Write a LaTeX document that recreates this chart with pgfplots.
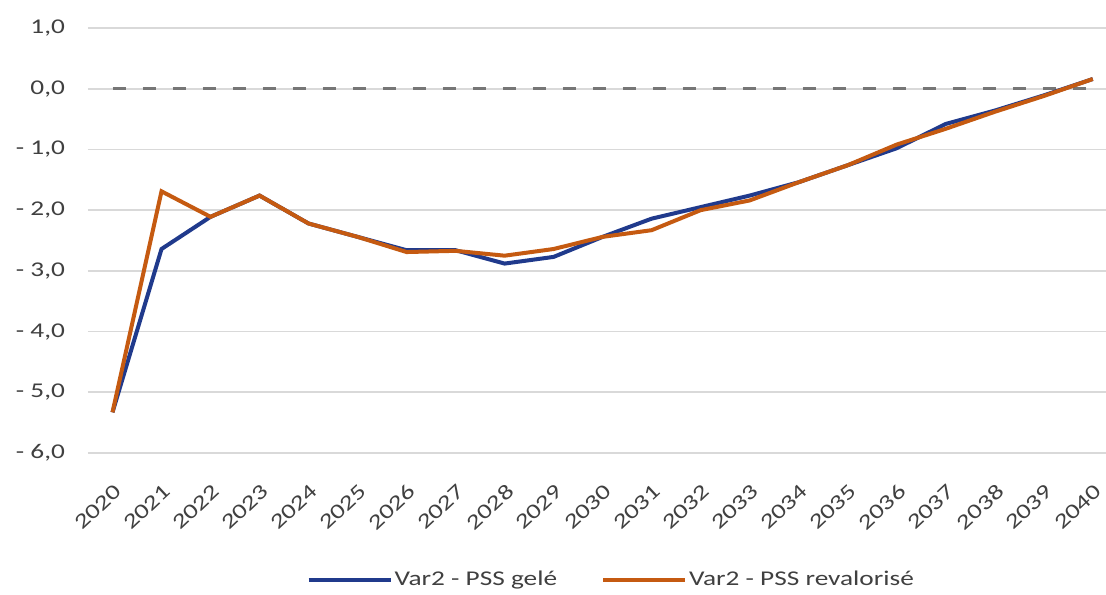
\documentclass[border=0pt]{standalone}
\usepackage{fontspec}
\setmainfont{Carlito}[FakeStretch=1.3]
\usepackage{pgfplots}
\pgfplotsset{compat=1.18}
\definecolor{serblue}{RGB}{32,58,140}
\definecolor{serorange}{RGB}{197,90,17}
\definecolor{gridgray}{RGB}{217,217,217}
\definecolor{dashgray}{RGB}{118,118,118}
\begin{document}
\begin{tikzpicture}
\path[use as bounding box] (-44pt,-70.5pt) rectangle ++(553pt,297pt);
\begin{axis}[
  at={(0pt,0pt)}, anchor=south west,
  scale only axis,
  width=509pt, height=212.5pt,
  xmin=-0.5, xmax=20.27,
  ymin=-6, ymax=1,
  axis line style={draw=none},
  major tick length=0pt,
  ytick={-6,-5,-4,-3,-2,-1,0,1},
  yticklabels={{- 6,0},{- 5,0},{- 4,0},{- 3,0},{- 2,0},{- 1,0},{0,0},{1,0}},
  xtick={0,...,20},
  xticklabels={2020,2021,2022,2023,2024,2025,2026,2027,2028,2029,2030,2031,2032,2033,2034,2035,2036,2037,2038,2039,2040},
  ymajorgrids,
  grid style={gridgray, line width=0.8pt},
  tick label style={font=\fontsize{10.5}{12}\selectfont, text=black!75},
  yticklabel style={anchor=east, xshift=-8pt},
  xticklabel style={inner sep=0pt, xshift=3pt, yshift=-17.5pt, rotate=43, anchor=east},
  clip=false,
  legend style={at={(0.514,-0.299)}, anchor=center, draw=none, fill=none,
    font=\fontsize{10.5}{12}\selectfont, text=black!75,
    nodes={inner xsep=1pt},
    legend columns=2, /tikz/every even column/.append style={column sep=21pt}},
  legend cell align=left,
  legend image code/.code={\draw[#1, line width=2pt] (0pt,0pt) -- (41pt,0pt);},
]
\addplot[dashgray, line width=1.5pt, dash pattern=on 6.5pt off 8.5pt, forget plot] coordinates {
(0,0) (20,0)};
\addplot[serblue, line width=2pt] coordinates {
(0,-5.33) (1,-2.64) (2,-2.11) (3,-1.76) (4,-2.22) (5,-2.44) (6,-2.66) (7,-2.66) (8,-2.88) (9,-2.77) (10,-2.44)
(11,-2.14) (12,-1.95) (13,-1.76) (14,-1.54) (15,-1.26) (16,-0.98) (17,-0.58) (18,-0.36) (19,-0.11) (20,0.16)};
\addlegendentry{Var2 - PSS gelé}
\addplot[serorange, line width=2pt] coordinates {
(0,-5.33) (1,-1.69) (2,-2.11) (3,-1.76) (4,-2.22) (5,-2.44) (6,-2.69) (7,-2.67) (8,-2.75) (9,-2.64) (10,-2.44)
(11,-2.33) (12,-2.00) (13,-1.84) (14,-1.54) (15,-1.26) (16,-0.92) (17,-0.66) (18,-0.38) (19,-0.12) (20,0.16)};
\addlegendentry{Var2 - PSS revalorisé}
\end{axis}
\end{tikzpicture}
\end{document}
